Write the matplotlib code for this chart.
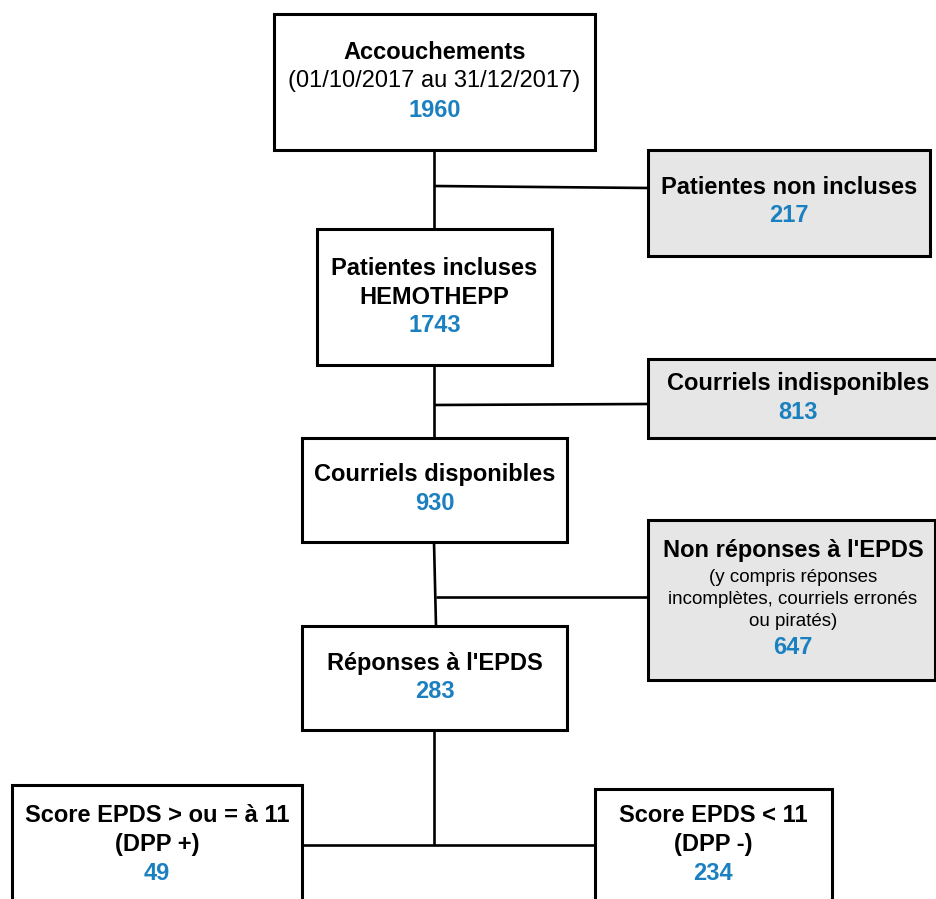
import matplotlib
matplotlib.use("Agg")
import matplotlib.pyplot as plt
from matplotlib.patches import Rectangle

plt.rcParams['font.family'] = ['Liberation Sans', 'DejaVu Sans']

# ---- data ----
titles = ["Accouchements", "Patientes non incluses", "Patientes incluses\nHEMOTHEPP",
          "Courriels indisponibles", "Courriels disponibles", "Non réponses à l'EPDS",
          "Réponses à l'EPDS", "Score EPDS > ou = à 11\n(DPP +)", "Score EPDS < 11\n(DPP -)"]
subtitles = ["(01/10/2017 au 31/12/2017)", "", "", "", "",
             "(y compris réponses\nincomplètes, courriels erronés\nou piratés)", "", "", ""]
counts = [1960, 217, 1743, 813, 930, 647, 283, 49, 234]

# ---- layout (pixels) ----
W, H = 936, 899
BLUE = "#1b80c0"
GRAY = "#e6e6e6"
boxes = [  # x0, y0, x1, y1, fill
    (274, 14, 595, 150, "white"),
    (648, 150, 930, 256, GRAY),
    (317, 229, 552, 365, "white"),
    (648, 359, 945, 438, GRAY),
    (302, 438, 567, 542, "white"),
    (648, 520, 935, 680, GRAY),
    (302, 626, 567, 730, "white"),
    (12, 785, 302, 910, "white"),
    (595, 789, 832, 910, "white"),
]
text_x = [434.5, 789, 434.5, 798, 434.5, 793, 434.5, 157, 713]
text_lines = [
    [50, 79, 108],
    [185, 213],
    [266, 295, 323],
    [381, 410],
    [472, 501],
    [548, 575, 597, 619, 645],
    [661, 689],
    [813, 842, 871],
    [813, 842, 871],
]
DY = 2.5

fig = plt.figure(figsize=(W / 100, H / 100), dpi=100)
ax = fig.add_axes([0, 0, 1, 1])
ax.set_xlim(0, W)
ax.set_ylim(H, 0)
ax.axis("off")

LW_BOX = 2.2
LW_LINE = 1.9

conn = [
    ((434, 434), (150, 229)),
    ((434, 648), (186, 188)),
    ((434, 434), (365, 438)),
    ((434, 648), (405, 404)),
    ((434, 436), (542, 626)),
    ((436, 648), (597, 597)),
    ((434, 434), (730, 845)),
    ((302, 595), (845, 845)),
]
for xs, ys in conn:
    ax.plot(xs, ys, color="black", lw=LW_LINE, solid_capstyle="butt", zorder=1)

for i, (x0, y0, x1, y1, fc) in enumerate(boxes):
    ax.add_patch(Rectangle((x0, y0), x1 - x0, y1 - y0, facecolor=fc,
                           edgecolor="black", lw=LW_BOX, zorder=2))
    lines = []
    for t in titles[i].split("\n"):
        lines.append((t, "bold", "black", 17))
    if subtitles[i]:
        size = 17 if i == 0 else 13.5
        for t in subtitles[i].split("\n"):
            lines.append((t, "normal", "black", size))
    lines.append((str(counts[i]), "bold", BLUE, 17))
    for (t, wt, col, sz), y in zip(lines, text_lines[i]):
        ax.text(text_x[i], y + DY, t, ha="center", va="center", fontsize=sz,
                fontweight=wt, color=col, zorder=3)

fig.savefig("out.png", dpi=100, facecolor="white")
